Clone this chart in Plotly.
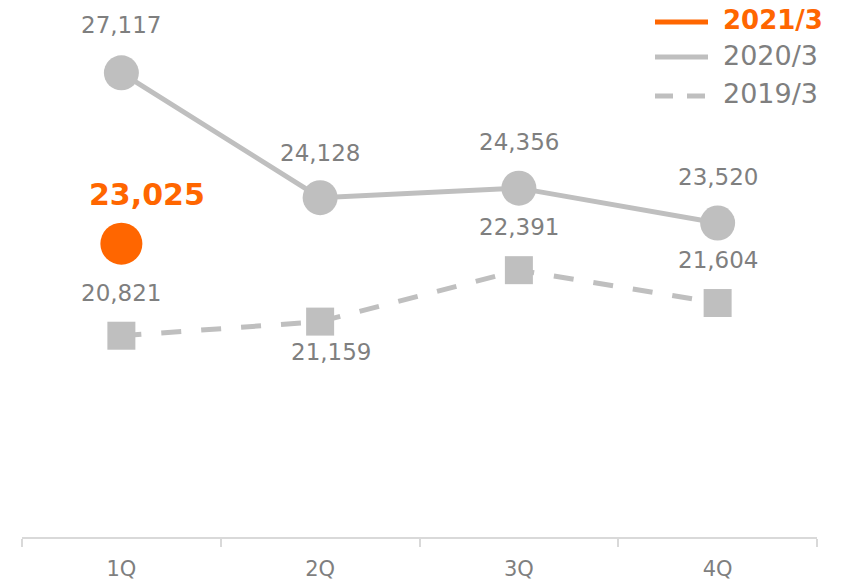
import plotly.graph_objects as go

categories = ["1Q", "2Q", "3Q", "4Q"]
series_names = ["2021/3", "2020/3", "2019/3"]
values_2021 = [23025, None, None, None]
values_2020 = [27117, 24128, 24356, 23520]
values_2019 = [20821, 21159, 22391, 21604]

ORANGE = "#FF6600"
GRAY = "#BFBFBF"
TEXT_GRAY = "#7F7F7F"
FONT = "DejaVu Sans"

fig = go.Figure()

fig.add_trace(go.Scatter(
    x=categories, y=values_2019, mode="lines+markers", name=series_names[2],
    line=dict(color=GRAY, width=5, dash="20px,20px"),
    marker=dict(symbol="square", size=28, color=GRAY),
    showlegend=False, hoverinfo="skip"))
fig.add_trace(go.Scatter(
    x=categories, y=values_2020, mode="lines+markers", name=series_names[1],
    line=dict(color=GRAY, width=5),
    marker=dict(symbol="circle", size=35, color=GRAY),
    showlegend=False, hoverinfo="skip"))
fig.add_trace(go.Scatter(
    x=categories, y=values_2021, mode="lines+markers", name=series_names[0],
    line=dict(color=ORANGE, width=5),
    marker=dict(symbol="circle", size=42, color=ORANGE),
    showlegend=False, hoverinfo="skip"))

# data labels
shift_2020 = [48, 45, 46, 46]
shift_2019 = [43, -30, 43, 43]
xshift_2019 = [0, 11, 0, 0]
for c, v, s in zip(categories, values_2020, shift_2020):
    fig.add_annotation(x=c, y=v, text=f"{v:,}", showarrow=False, yshift=s,
                       font=dict(family=FONT, size=23, color=TEXT_GRAY))
for c, v, s, xs in zip(categories, values_2019, shift_2019, xshift_2019):
    fig.add_annotation(x=c, y=v, text=f"{v:,}", showarrow=False, yshift=s, xshift=xs,
                       font=dict(family=FONT, size=23, color=TEXT_GRAY))
for c, v in zip(categories, values_2021):
    if v is not None:
        fig.add_annotation(x=c, y=v, text=f"<b>{v:,}</b>", showarrow=False, yshift=49, xshift=26,
                           font=dict(family=FONT, size=30, color=ORANGE))

# plot area in page pixels (page body margin removed below)
FIG_W, FIG_H = 843, 580
PL, PR, PT, PB = 22, 817, 36, 537
L, R, T, B = PL, FIG_W - PR, PT, FIG_H - PB
W, H = PR - PL, PB - PT

def px(x):
    return (x - PL) / W

def py(y):
    return (PB - y) / H

legend_rows = [
    (series_names[0], ORANGE, "solid", True, 22, 20),
    (series_names[1], GRAY, "solid", False, 57, 56),
    (series_names[2], GRAY, "dash", False, 96, 94),
]
for name, col, dash, bold, ly, ty in legend_rows:
    if dash == "solid":
        fig.add_shape(type="line", xref="paper", yref="paper",
                      x0=px(655), x1=px(708), y0=py(ly), y1=py(ly),
                      line=dict(color=col, width=5))
    else:
        for a, b in [(655, 673), (687, 705)]:
            fig.add_shape(type="line", xref="paper", yref="paper",
                          x0=px(a), x1=px(b), y0=py(ly), y1=py(ly),
                          line=dict(color=col, width=5))
    fig.add_annotation(xref="paper", yref="paper", x=px(721), y=py(ty),
                       xanchor="left", yanchor="middle", showarrow=False,
                       text=f"<b>{name}</b>" if bold else name,
                       font=dict(family=FONT, size=26 if bold else 27,
                                 color=col if bold else TEXT_GRAY))

fig.update_layout(
    width=FIG_W, height=FIG_H,
    margin=dict(l=L, r=R, t=T, b=B, autoexpand=False),
    paper_bgcolor="white", plot_bgcolor="white",
    showlegend=False,
    font=dict(family=FONT, color=TEXT_GRAY),
)
fig.update_xaxes(
    type="category", range=[-0.5, 3.5], showgrid=False, zeroline=False,
    showline=True, linecolor="#D9D9D9", linewidth=2,
    ticks="outside", tickson="boundaries", ticklen=8, tickcolor="#D9D9D9", tickwidth=2,
    tickfont=dict(family=FONT, size=21, color=TEXT_GRAY),
    ticklabelstandoff=12,
)
fig.update_yaxes(range=[16000, 28000], visible=False, showgrid=False, zeroline=False)

fig.write_html("out.html",
               config={"displayModeBar": False, "staticPlot": True},
               post_script="document.body.style.margin='0px';document.body.style.overflow='hidden';")
